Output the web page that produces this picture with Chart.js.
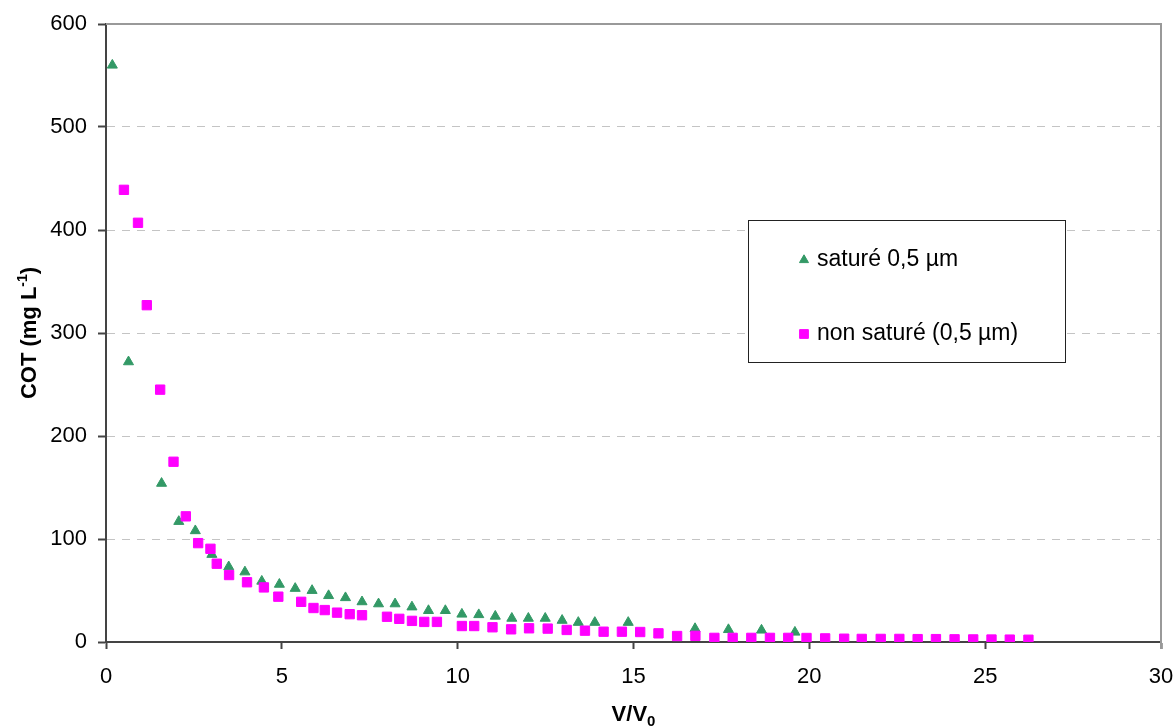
<!DOCTYPE html>
<html>
<head>
<meta charset="utf-8">
<script src="https://cdn.jsdelivr.net/npm/chart.js@4/dist/chart.umd.min.js"></script>
<style>
  html, body { margin: 0; padding: 0; background: #fff; }
  #wrap { width: 1176px; height: 727px; position: relative; }
</style>
</head>
<body>
<div id="wrap"><canvas id="c"></canvas></div>
<script>
// ---- data ----
const satureX = [0.18, 0.64, 1.58, 2.07, 2.54, 3.01, 3.49, 3.95, 4.43, 4.93, 5.38, 5.86, 6.33, 6.81, 7.28, 7.75, 8.22, 8.70, 9.17, 9.65, 10.12, 10.60, 11.07, 11.54, 12.01, 12.49, 12.97, 13.43, 13.90, 14.85, 16.75, 17.70, 18.64, 19.59];
const satureY = [560, 272, 154, 117, 108, 85, 73, 68, 59, 56, 52, 50, 45, 43, 39, 37, 37, 34, 30.5, 30.5, 27, 26.5, 25, 23, 23, 23, 21, 19, 19, 19, 13, 12, 11.5, 9.5];

const nonSatX = [0.51, 0.91, 1.16, 1.54, 1.92, 2.27, 2.62, 2.97, 3.15, 3.50, 4.01, 4.49, 4.90, 5.55, 5.90, 6.22, 6.57, 6.93, 7.28, 7.99, 8.34, 8.70, 9.05, 9.41, 10.12, 10.47, 10.99, 11.52, 12.03, 12.56, 13.10, 13.62, 14.15, 14.67, 15.19, 15.71, 16.24, 16.76, 17.30, 17.82, 18.35, 18.88, 19.40, 19.92, 20.45, 20.99, 21.49, 22.03, 22.56, 23.08, 23.60, 24.13, 24.66, 25.18, 25.70, 26.23];
const nonSatY = [439, 407, 327, 245, 175, 122, 96, 90.5, 76, 65, 58, 53, 44, 39, 33, 31, 28.5, 27, 26, 24.5, 22.5, 20.5, 19.5, 19.5, 15.5, 15.5, 14.3, 12.3, 13.3, 13, 11.7, 11, 10, 10, 9.7, 8.4, 5.8, 6, 4, 4, 4, 4, 4, 3.9, 3.5, 3.2, 3, 3, 3, 2.8, 2.8, 2.6, 2.5, 2.4, 2.3, 2.2];

const seriesLabels = ['saturé 0,5 µm', 'non saturé (0,5 µm)'];
const xTitle = ['V/V', '0'];          // main text, subscript
const yTitle = ['COT (mg L', '-1', ')']; // main, superscript, tail

const xTicks = { min: 0, max: 30, step: 5 };
const yTicks = { min: 0, max: 600, step: 100 };

const GREEN = '#339966';
const MAGENTA = '#ff00ff';
const FONT = '"Liberation Sans", Arial, sans-serif';

const toPts = (xs, ys) => xs.map((x, i) => ({ x, y: ys[i] }));

const decorPlugin = {
  id: 'decor',
  afterDraw(chart) {
    const ctx = chart.ctx;
    const ca = chart.chartArea;
    ctx.save();
    // top and right frame
    ctx.strokeStyle = '#999999';
    ctx.lineWidth = 2;
    ctx.beginPath();
    ctx.moveTo(ca.left, ca.top);
    ctx.lineTo(ca.right, ca.top);
    ctx.lineTo(ca.right, ca.bottom + 7);
    ctx.stroke();

    // x title with subscript
    ctx.fillStyle = '#000';
    ctx.textBaseline = 'alphabetic';
    ctx.font = 'bold 22px ' + FONT;
    const w1 = ctx.measureText(xTitle[0]).width;
    ctx.font = 'bold 15px ' + FONT;
    const w2 = ctx.measureText(xTitle[1]).width;
    const cx = (ca.left + ca.right) / 2;
    const bx = cx - (w1 + w2) / 2;
    const by = 721;
    ctx.font = 'bold 22px ' + FONT;
    ctx.textAlign = 'left';
    ctx.fillText(xTitle[0], bx, by);
    ctx.font = 'bold 15px ' + FONT;
    ctx.fillText(xTitle[1], bx + w1, by + 5);

    // y title rotated with superscript
    ctx.save();
    const cy = (ca.top + ca.bottom) / 2;
    ctx.translate(36, cy);
    ctx.rotate(-Math.PI / 2);
    ctx.font = 'bold 22px ' + FONT;
    const a = ctx.measureText(yTitle[0]).width;
    const c = ctx.measureText(yTitle[2]).width;
    ctx.font = 'bold 14px ' + FONT;
    const b = ctx.measureText(yTitle[1]).width;
    let sx = -(a + b + c) / 2;
    ctx.font = 'bold 22px ' + FONT;
    ctx.fillText(yTitle[0], sx, 0);
    ctx.font = 'bold 14px ' + FONT;
    ctx.fillText(yTitle[1], sx + a, -9);
    ctx.font = 'bold 22px ' + FONT;
    ctx.fillText(yTitle[2], sx + a + b, 0);
    ctx.restore();

    // legend box
    ctx.fillStyle = '#fff';
    ctx.fillRect(748, 220, 317, 142);
    ctx.strokeStyle = '#222';
    ctx.lineWidth = 1;
    ctx.strokeRect(748.5, 220.5, 317, 142);
    const ds = chart.data.datasets;
    const rows = [260, 334];
    ds.forEach((d, i) => {
      ctx.fillStyle = d.backgroundColor;
      ctx.strokeStyle = d.borderColor;
      ctx.lineWidth = 1;
      Chart.helpers.drawPoint(ctx, { pointStyle: d.pointStyle, radius: d.pointStyle === 'triangle' ? 5.2 : 6.2, rotation: 0, borderWidth: 1 }, 804, rows[i]);
      ctx.fillStyle = '#000';
      ctx.font = '23px ' + FONT;
      ctx.textAlign = 'left';
      ctx.textBaseline = 'middle';
      ctx.fillText(seriesLabels[i], 817, rows[i]);
    });
    ctx.restore();
  }
};

new Chart(document.getElementById('c'), {
  type: 'scatter',
  data: {
    datasets: [
      {
        label: seriesLabels[0],
        data: toPts(satureX, satureY),
        pointStyle: 'triangle',
        pointRadius: 5.8,
        backgroundColor: GREEN,
        borderColor: GREEN,
        borderWidth: 1,
        order: 1
      },
      {
        label: seriesLabels[1],
        data: toPts(nonSatX, nonSatY),
        pointStyle: 'rect',
        pointRadius: 6.6,
        backgroundColor: MAGENTA,
        borderColor: MAGENTA,
        borderWidth: 1,
        order: 0
      }
    ]
  },
  options: {
    responsive: true,
    maintainAspectRatio: false,
    animation: false,
    events: [],
    layout: { padding: { top: 24, right: 15, left: 0, bottom: 0 } },
    plugins: { legend: { display: false }, tooltip: { enabled: false } },
    scales: {
      x: {
        type: 'linear',
        min: xTicks.min,
        max: xTicks.max,
        afterFit(s) { s.height = 85; s.paddingLeft = 0; s.paddingRight = 0; },
        ticks: { stepSize: xTicks.step, color: '#000', font: { family: FONT, size: 22 }, padding: 15, maxRotation: 0 },
        grid: { drawOnChartArea: false, tickLength: 7, tickColor: '#444', tickWidth: 2 },
        border: { color: '#444', width: 2 }
      },
      y: {
        type: 'linear',
        min: yTicks.min,
        max: yTicks.max,
        afterFit(s) { s.width = 106; s.paddingTop = 0; s.paddingBottom = 0; },
        ticks: { stepSize: yTicks.step, color: '#000', font: { family: FONT, size: 22 }, padding: 11 },
        grid: {
          color: (c) => (c.tick && (c.tick.value === yTicks.min || c.tick.value === yTicks.max)) ? 'rgba(0,0,0,0)' : '#c4c4c4',
          lineWidth: 1,
          tickLength: 8,
          tickColor: '#444',
          tickWidth: 2,
          tickBorderDash: []
        },
        border: { color: '#444', width: 2, dash: [8, 7] }
      }
    }
  },
  plugins: [decorPlugin]
});
</script>
</body>
</html>
